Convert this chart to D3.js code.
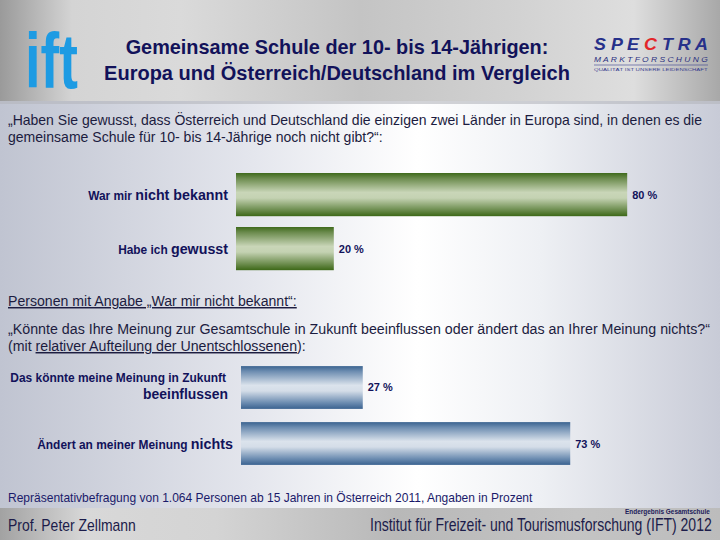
<!DOCTYPE html>
<html><head><meta charset="utf-8">
<script src="https://cdn.jsdelivr.net/npm/d3@7/dist/d3.min.js"></script>
<style>html,body{margin:0;padding:0;background:#fff}svg{display:block}</style>
</head><body>
<svg id="c" width="720" height="540"></svg>
<script>
const titleLines = ["Gemeinsame Schule der 10- bis 14-Jährigen:", "Europa und Österreich/Deutschland im Vergleich"];
const question1 = ["„Haben Sie gewusst, dass Österreich und Deutschland die einzigen zwei Länder in Europa sind, in denen es die", "gemeinsame Schule für 10- bis 14-Jährige noch nicht gibt?“:"];
const categories1 = ["War mir nicht bekannt", "Habe ich gewusst"];
const labelSmall1 = ["War mir ", "Habe ich "];
const labelBig1 = ["nicht bekannt", "gewusst"];
const values1 = [80, 20];
const subHeader = "Personen mit Angabe „War mir nicht bekannt“:";
const question2 = "„Könnte das Ihre Meinung zur Gesamtschule in Zukunft beeinflussen oder ändert das an Ihrer Meinung nichts?“";
const categories2 = ["Das könnte meine Meinung in Zukunft beeinflussen", "Ändert an meiner Meinung nichts"];
const values2 = [27, 73];
const footnote = "Repräsentativbefragung von 1.064 Personen ab 15 Jahren in Österreich 2011, Angaben in Prozent";
const footLeft = "Prof. Peter Zellmann";
const footRight = "Institut für Freizeit- und Tourismusforschung (IFT) 2012";
const footTag = "Endergebnis Gesamtschule";

const svg = d3.select("#c");
const defs = svg.append("defs");
const SANS = "'Liberation Sans',Arial,sans-serif";
const navy = "#12125a";
// condense a text horizontally to a given width, anchored at (x,y)
function fit(sel, x, y, w) {
  sel.attr("x", 0).attr("y", 0);
  const n = sel.node().getComputedTextLength();
  sel.attr("transform", `translate(${x},${y}) scale(${w / n},1)`);
  return sel;
}

function lin(id, stops, vertical) {
  const g = defs.append("linearGradient").attr("id", id)
    .attr("x1", 0).attr("y1", 0).attr("x2", vertical ? 0 : 1).attr("y2", vertical ? 1 : 0);
  stops.forEach(s => g.append("stop").attr("offset", s[0]).attr("stop-color", s[1]));
}
lin("bodyG", [[0, "#c0c4d1"], [0.35, "#e4e6ed"], [0.58, "#ffffff"], [0.75, "#eef0f4"], [1, "#c8cbd7"]]);
lin("headG", [[0, "#9a9a9a"], [0.1, "#d4d4d4"], [0.25, "#dadada"], [0.5, "#c4c4c4"], [0.72, "#d2d2d2"], [0.88, "#dedede"], [1, "#a8a8a8"]]);
lin("footG", [[0, "#a2a2a2"], [0.12, "#d8d8d8"], [0.3, "#d4d4d4"], [0.55, "#b8b8b8"], [0.8, "#c4c4c4"], [1, "#bcbcbc"]]);
lin("greenG", [[0, "#3f6a1c"], [0.12, "#6a8a4c"], [0.45, "#c9d6b8"], [0.58, "#c4d2b2"], [0.85, "#6e8e50"], [1, "#3d6818"]], true);
lin("blueG", [[0, "#3a6390"], [0.12, "#6c8cb0"], [0.45, "#dbe3ec"], [0.58, "#d4dde8"], [0.85, "#6e8eb2"], [1, "#3a6290"]], true);

// backgrounds
svg.append("rect").attr("x", 0).attr("y", 0).attr("width", 720).attr("height", 540).attr("fill", "url(#bodyG)");
svg.append("rect").attr("x", 0).attr("y", 0).attr("width", 720).attr("height", 101).attr("fill", "url(#headG)");
svg.append("rect").attr("x", 0).attr("y", 101).attr("width", 720).attr("height", 3).attr("fill", "#b4b6bc").attr("opacity", 0.6);
svg.append("rect").attr("x", 0).attr("y", 508).attr("width", 720).attr("height", 32).attr("fill", "url(#footG)");

// ift logo
fit(svg.append("text").attr("font-family", SANS).attr("font-weight", "bold").attr("font-size", 78)
  .attr("fill", "#1d9be3").text("ift"), 25, 88, 53);

// title
svg.selectAll("text.title").data(titleLines).join("text").attr("class", "title")
  .attr("text-anchor", "middle").attr("font-family", SANS).attr("font-weight", "bold").attr("font-size", 20)
  .attr("fill", navy).text(d => d)
  .each(function (d, i) { fit(d3.select(this), 337, 54 + i * 26, [423, 466][i]); });

// SPECTRA logo
const sp = svg.append("g");
const spT = sp.append("text").attr("font-family", SANS)
  .attr("font-style", "italic").attr("font-weight", "bold").attr("font-size", 17).attr("fill", "#26308a");
spT.append("tspan").text("S P E ");
spT.append("tspan").attr("fill", "#e3262a").text("C");
spT.append("tspan").text(" T R A");
fit(spT, 594, 50, 114);
fit(sp.append("text").attr("font-family", SANS)
  .attr("font-style", "italic").attr("font-size", 7.5).attr("fill", "#2a3080").text("M A R K T F O R S C H U N G"), 594, 62, 114);
sp.append("line").attr("x1", 594).attr("x2", 708).attr("y1", 65).attr("y2", 65).attr("stroke", "#3a4090").attr("stroke-width", 0.6);
fit(sp.append("text").attr("font-family", SANS)
  .attr("font-size", 4).attr("fill", "#3a4090").text("QUALITÄT IST UNSERE LEIDENSCHAFT"), 594, 71, 114);

const textCol = "#1c1c40";
// question 1
svg.selectAll("text.q1").data(question1).join("text").attr("class", "q1")
  .attr("font-family", SANS).attr("font-size", 14.5).attr("fill", textCol).text(d => d)
  .each(function (d, i) { fit(d3.select(this), 8, 125 + i * 17, [694, 375][i]); });

// chart 1
const x1 = d3.scaleLinear().domain([0, 100]).range([236, 725]);
const y1 = d3.scaleBand().domain(categories1).range([167.6, 275.6]).paddingInner(0.2).paddingOuter(0.1);
svg.selectAll("rect.b1").data(values1).join("rect").attr("class", "b1")
  .attr("x", x1(0)).attr("y", (d, i) => y1(categories1[i]))
  .attr("width", d => x1(d) - x1(0)).attr("height", y1.bandwidth()).attr("fill", "url(#greenG)");
svg.selectAll("text.v1").data(values1).join("text").attr("class", "v1")
  .attr("font-family", SANS).attr("font-weight", "bold").attr("font-size", 11)
  .attr("fill", navy).text(d => d + " %")
  .each(function (d, i) { fit(d3.select(this), x1(d) + 5, y1(categories1[i]) + y1.bandwidth() / 2 + 4, 25); });
const l1 = svg.selectAll("text.l1").data(categories1).join("text").attr("class", "l1")
  .attr("text-anchor", "end").attr("font-family", SANS).attr("font-weight", "bold").attr("fill", navy);
l1.append("tspan").attr("font-size", 12.5).text((d, i) => labelSmall1[i]);
l1.append("tspan").attr("font-size", 15).text((d, i) => labelBig1[i]);
l1.each(function (d, i) { fit(d3.select(this), 228, y1(d) + y1.bandwidth() / 2 + 5, [140, 110][i]); });

// sub header
fit(svg.append("text").attr("font-family", SANS).attr("font-size", 14.5)
  .attr("fill", textCol).attr("text-decoration", "underline").text(subHeader), 8, 306, 289);
fit(svg.append("text").attr("font-family", SANS).attr("font-size", 14.5)
  .attr("fill", textCol).text(question2), 8, 334, 703);
const q3 = svg.append("text").attr("font-family", SANS).attr("font-size", 14.5).attr("fill", textCol);
q3.append("tspan").text("(mit ");
q3.append("tspan").attr("text-decoration", "underline").text("relativer Aufteilung der Unentschlossenen");
q3.append("tspan").text("):");
fit(q3, 8, 351, 298);

// chart 2
const x2 = d3.scaleLinear().domain([0, 100]).range([241, 692]);
const y2 = d3.scaleBand().domain(categories2).range([360.5, 470.5]).paddingInner(0.236).paddingOuter(0.1);
svg.selectAll("rect.b2").data(values2).join("rect").attr("class", "b2")
  .attr("x", x2(0)).attr("y", (d, i) => y2(categories2[i]))
  .attr("width", d => x2(d) - x2(0)).attr("height", y2.bandwidth()).attr("fill", "url(#blueG)");
svg.selectAll("text.v2").data(values2).join("text").attr("class", "v2")
  .attr("font-family", SANS).attr("font-weight", "bold").attr("font-size", 11)
  .attr("fill", navy).text(d => d + " %")
  .each(function (d, i) { fit(d3.select(this), x2(d) + 5, y2(categories2[i]) + y2.bandwidth() / 2 + 4, 25); });
// labels chart 2
const c0 = y2(categories2[0]) + y2.bandwidth() / 2;
fit(svg.append("text").attr("text-anchor", "end").attr("font-family", SANS)
  .attr("font-weight", "bold").attr("font-size", 12.5).attr("fill", navy).text("Das könnte meine Meinung in Zukunft"), 226, c0 - 5, 216);
fit(svg.append("text").attr("text-anchor", "end").attr("font-family", SANS)
  .attr("font-weight", "bold").attr("font-size", 14).attr("fill", navy).text("beeinflussen"), 228, c0 + 12, 85);
const c1 = y2(categories2[1]) + y2.bandwidth() / 2;
const l2 = svg.append("text").attr("text-anchor", "end").attr("font-family", SANS)
  .attr("font-weight", "bold").attr("fill", navy);
l2.append("tspan").attr("font-size", 12.5).text("Ändert an meiner Meinung ");
l2.append("tspan").attr("font-size", 15).text("nichts");
fit(l2, 233, c1 + 5, 196);

// footnote
fit(svg.append("text").attr("font-family", SANS).attr("font-size", 13.5)
  .attr("fill", "#1a1a6a").text(footnote), 8, 502, 525);

// footer
fit(svg.append("text").attr("font-family", SANS).attr("font-size", 16)
  .attr("fill", "#1c1c4a").text(footLeft), 8, 531, 128);
fit(svg.append("text").attr("font-family", SANS).attr("font-size", 18)
  .attr("fill", "#1c1c4a").text(footRight), 370, 531, 342);
fit(svg.append("text").attr("font-family", SANS)
  .attr("font-weight", "bold").attr("font-size", 7).attr("fill", "#1c1c5a").text(footTag), 625, 514, 85);
</script>
</body></html>
